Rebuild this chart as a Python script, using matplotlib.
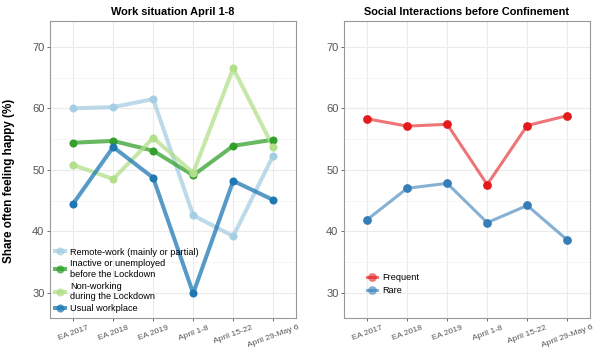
import matplotlib
matplotlib.use("Agg")
import matplotlib.pyplot as plt
from matplotlib.lines import Line2D
from matplotlib.ticker import MultipleLocator

plt.rcParams['font.family'] = ['Liberation Sans', 'DejaVu Sans']

# data
periods = ['EA 2017', 'EA 2018', 'EA 2019', 'April 1-8', 'April 15-22', 'April 29-May 6']

remote = [60.0, 60.2, 61.5, 42.6, 39.2, 52.3]
inactive = [54.4, 54.7, 53.1, 49.1, 53.9, 54.9]
nonworking = [50.8, 48.5, 55.2, 49.5, 66.5, 53.7]
usual = [44.5, 53.7, 48.7, 29.9, 48.2, 45.1]

frequent = [58.3, 57.1, 57.4, 47.6, 57.2, 58.8]
rare = [41.9, 47.0, 47.8, 41.4, 44.2, 38.6]

work_labels = ['Remote-work (mainly or partial)',
               'Inactive or unemployed\nbefore the Lockdown',
               'Non-working\nduring the Lockdown',
               'Usual workplace']
work_colors = ['#a6cee3', '#33a02c', '#b2df8a', '#1f78b4']
social_labels = ['Frequent', 'Rare']
social_colors = ['#e41a1c', '#377eb8']

W, H = 594, 348
fig = plt.figure(figsize=(W / 100, H / 100), dpi=100)
ax1 = fig.add_axes([50 / W, 30 / H, 246 / W, 297 / H])
ax2 = fig.add_axes([344 / W, 30 / H, 246 / W, 297 / H])

x = list(range(1, len(periods) + 1))


def style(ax, title):
    ax.set_xlim(0.42, 6.57)
    ax.set_ylim(25.9, 74.2)
    ax.set_xticks(x)
    ax.set_xticklabels(periods, rotation=20, ha='center', fontsize=6, color='#555555')
    ax.yaxis.set_major_locator(MultipleLocator(10))
    ax.yaxis.set_minor_locator(MultipleLocator(5))
    ax.tick_params(axis='y', labelsize=8, colors='#555555', length=2.5, width=0.6, pad=1.5)
    ax.tick_params(axis='x', length=2.5, width=0.6, colors='#555555', pad=2)
    ax.tick_params(axis='y', which='minor', length=0)
    ax.grid(True, which='major', color='#ebebeb', lw=0.8)
    ax.grid(True, which='minor', axis='y', color='#f2f2f2', lw=0.5)
    ax.set_axisbelow(True)
    for s in ax.spines.values():
        s.set_color('#999999')
        s.set_linewidth(0.8)
    ax.set_title(title, fontsize=7.9, fontweight='bold', pad=4.5)


for vals, c in zip([remote, inactive, nonworking, usual], work_colors):
    ax1.plot(x, vals, color=c, lw=2.9, alpha=0.75, solid_capstyle='round', zorder=2)
    ax1.plot(x, vals, 'o', color=c, ms=5.8, mec='none', zorder=3)
style(ax1, 'Work situation April 1-8')

for vals, c in zip([frequent, rare], social_colors):
    ax2.plot(x, vals, color=c, lw=2.2, alpha=0.6, zorder=2)
    ax2.plot(x, vals, 'o', color=c, ms=6.3, mec='none', zorder=3)
style(ax2, 'Social Interactions before Confinement')

h1 = [Line2D([], [], color=c, lw=2.9, alpha=0.75, marker='o', ms=5.8,
             markerfacecolor=c, markeredgecolor='none') for c in work_colors]
ax1.legend(h1, work_labels, loc='lower left', bbox_to_anchor=(-0.015, -0.01),
           frameon=False, fontsize=6.6, handlelength=1.1, handletextpad=0.6,
           labelspacing=0.3)

h2 = [Line2D([], [], color=c, lw=2.2, alpha=0.6, marker='o', ms=6.3,
             markerfacecolor=c, markeredgecolor='none') for c in social_colors]
ax2.legend(h2, social_labels, loc='lower left', bbox_to_anchor=(0.06, 0.05),
           frameon=False, fontsize=6.6, handlelength=1.1, handletextpad=0.6,
           labelspacing=0.45)

fig.text(9 / W, 1 - 181 / H, 'Share often feeling happy (%)', rotation=90,
         ha='center', va='center', fontsize=8.4, fontweight='bold')

fig.savefig('out.png', dpi=100)
